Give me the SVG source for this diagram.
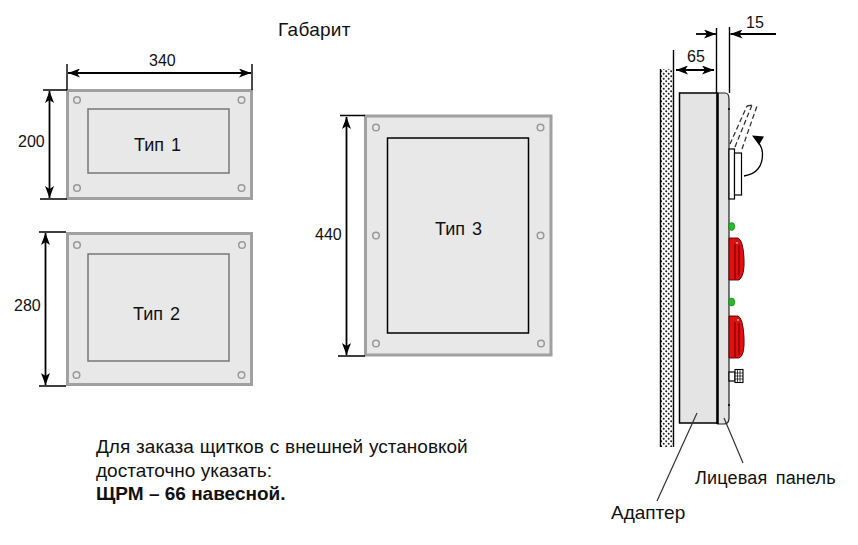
<svg xmlns="http://www.w3.org/2000/svg" width="858" height="545" viewBox="0 0 858 545">
<style>
text{font-family:"Liberation Sans",Arial,sans-serif;font-size:16px;fill:#111}
.big{font-size:19px}
.tip{font-size:18px;word-spacing:2px}
.outer{fill:#e8e8e8;stroke:#a0a0a0;stroke-width:3}
.inner{fill:#e8e8e8;stroke:#777;stroke-width:1.5}
.inner3{fill:#e8e8e8;stroke:#000;stroke-width:1.5}
.hole{fill:#e8e8e8;stroke:#999;stroke-width:1.5}
.dim{fill:none;stroke:#000;stroke-width:1.8}
.ext{fill:none;stroke:#000;stroke-width:1.4}
.lead{fill:none;stroke:#333;stroke-width:1.2}
.btn{fill:#e01010;stroke:#500;stroke-width:.9}
.led{fill:#22c020;stroke:#0a700a;stroke-width:.6}
.w{fill:#fff;stroke:#000;stroke-width:1.2}
.dash{fill:none;stroke:#333;stroke-width:1.3;stroke-dasharray:5 3}
</style>
<defs>
<marker id="a" viewBox="0 0 12 9" refX="12" refY="4.500" markerWidth="12" markerHeight="9" markerUnits="userSpaceOnUse" orient="auto-start-reverse"><path d="M0 0L12 4.500L0 9L3 4.500Z" fill="#000"/></marker>
<pattern id="dots" width="5" height="5" patternUnits="userSpaceOnUse"><rect width="5" height="5" fill="#fff"/><circle cx="1.200" cy="1.200" r="1" fill="#222"/><circle cx="3.700" cy="3.700" r="1" fill="#222"/></pattern>
</defs>
<text x="278" y="36" class="big" style="letter-spacing:.3px">Габарит</text>
<g id="type1">
<rect class="outer" x="67.500" y="90.500" width="184" height="108"/>
<rect class="inner" x="88" y="109" width="141" height="64"/>
<circle class="hole" cx="77" cy="100" r="3.300"/><circle class="hole" cx="241.500" cy="100" r="3.300"/><circle class="hole" cx="77" cy="188" r="3.300"/><circle class="hole" cx="241.500" cy="188" r="3.300"/>
<text x="134" y="151" class="tip">Тип 1</text>
</g>
<g id="type2">
<rect class="outer" x="67.500" y="233.500" width="184" height="151"/>
<rect class="inner" x="88" y="254" width="141" height="107"/>
<circle class="hole" cx="77" cy="245" r="3.300"/><circle class="hole" cx="242" cy="245" r="3.300"/><circle class="hole" cx="76.500" cy="375" r="3.300"/><circle class="hole" cx="241.500" cy="375" r="3.300"/>
<text x="133" y="320" class="tip">Тип 2</text>
</g>
<g id="type3">
<rect class="outer" x="365.500" y="116" width="185.500" height="239"/>
<rect class="inner3" x="387.500" y="138" width="141" height="195"/>
<circle class="hole" cx="376" cy="127.500" r="3.300"/><circle class="hole" cx="540.500" cy="127.500" r="3.300"/><circle class="hole" cx="376" cy="235.500" r="3.300"/><circle class="hole" cx="540.500" cy="235.500" r="3.300"/><circle class="hole" cx="376" cy="343.500" r="3.300"/><circle class="hole" cx="541" cy="343.500" r="3.300"/>
<text x="435" y="235" class="tip">Тип 3</text>
</g>
<g id="side-view">
<rect x="661" y="69" width="12" height="378" fill="url(#dots)"/>
<path class="ext" d="M660.500 69V447M673.500 50V447"/>
<rect x="679.500" y="93" width="38" height="330" fill="#e4e4e4" stroke="#000" stroke-width="1.500"/>
<path d="M717.500 93H725Q729 93 729 99V418Q729 424 724 424H717.500Z" fill="#e4e4e4" stroke="#222" stroke-width="1.200"/>
<path d="M717.500 93V424" stroke="#000" stroke-width="2.500"/>
<path d="M729 108V110M729 404V406" stroke="#000" stroke-width="1.500"/>
<path class="dash" d="M730 144L747 106M735 147L752 105M742 149L757 106M747 106L752 105"/>
<rect class="w" x="729" y="149" width="5.500" height="50"/>
<rect class="w" x="734.500" y="153" width="7" height="42"/>
<path d="M744 176Q763 173 762.500 153Q762 147 758 142" fill="none" stroke="#000" stroke-width="1.300"/>
<path d="M752 135.500L764 136.500L759 145Z" fill="#000"/>
<ellipse class="led" cx="731.700" cy="226.500" rx="3" ry="4"/>
<path class="btn" d="M729 238H738Q743 240 744 258T739 280L729 280Z"/>
<path d="M735 244V279M739 245V277" stroke="#600" stroke-width="1" fill="none"/>
<circle cx="737" cy="243" r="1.300" fill="#ffc0c0" stroke="#600" stroke-width=".5"/>
<ellipse class="led" cx="731.700" cy="302" rx="3" ry="4"/>
<path class="btn" d="M729 316H738Q743 318 744 337T739 358L729 358Z"/>
<path d="M735 322V357M739 323V355" stroke="#600" stroke-width="1" fill="none"/>
<circle cx="738" cy="320" r="1.300" fill="#ffc0c0" stroke="#600" stroke-width=".5"/>
<rect class="w" x="729" y="372" width="6" height="9"/>
<rect x="735" y="369.500" width="8" height="13" fill="#fff" stroke="#000" stroke-width="1.100"/>
<path d="M737.500 370V382M740 370V382M735 373H743M735 376H743M735 379H743" stroke="#000" stroke-width=".7"/>
</g>
<g id="connectors">
<path class="ext" d="M67 64V90M252 64V90M43 90H67M40 199H67M39 232H66M39 386H66M340 115.500H365M338 356H365"/>
<path class="dim" d="M68 73H251" marker-start="url(#a)" marker-end="url(#a)"/>
<path class="dim" d="M49.500 91V198" marker-start="url(#a)" marker-end="url(#a)"/>
<path class="dim" d="M45.500 233V385" marker-start="url(#a)" marker-end="url(#a)"/>
<path class="dim" d="M346.500 117V355" marker-start="url(#a)" marker-end="url(#a)"/>
<path class="ext" d="M716.500 28V93M729.500 27V93"/>
<path class="dim" d="M696 34H716" marker-end="url(#a)"/>
<path class="dim" d="M776 34H730.500" marker-end="url(#a)"/>
<path class="dim" d="M676 70H714" marker-start="url(#a)" marker-end="url(#a)"/>
<path class="lead" d="M697 413L657 501M724 418L743 463"/>
</g>
<g id="labels">
<text x="149" y="66">340</text>
<text x="18" y="147">200</text>
<text x="14" y="311">280</text>
<text x="315" y="240">440</text>
<text x="687" y="62">65</text>
<text x="746" y="28">15</text>
<text x="695" y="484" class="big" style="font-size:18px;word-spacing:3px;letter-spacing:.2px">Лицевая панель</text>
<text x="611" y="519" class="big">Адаптер</text>
<text x="96" y="453" class="big" style="word-spacing:.6px">Для заказа щитков с внешней установкой</text>
<text x="96" y="477" class="big">достаточно указать:</text>
<text x="96" y="500" class="big" style="font-weight:bold">ЩРМ – 66 навесной.</text>
</g>
</svg>
